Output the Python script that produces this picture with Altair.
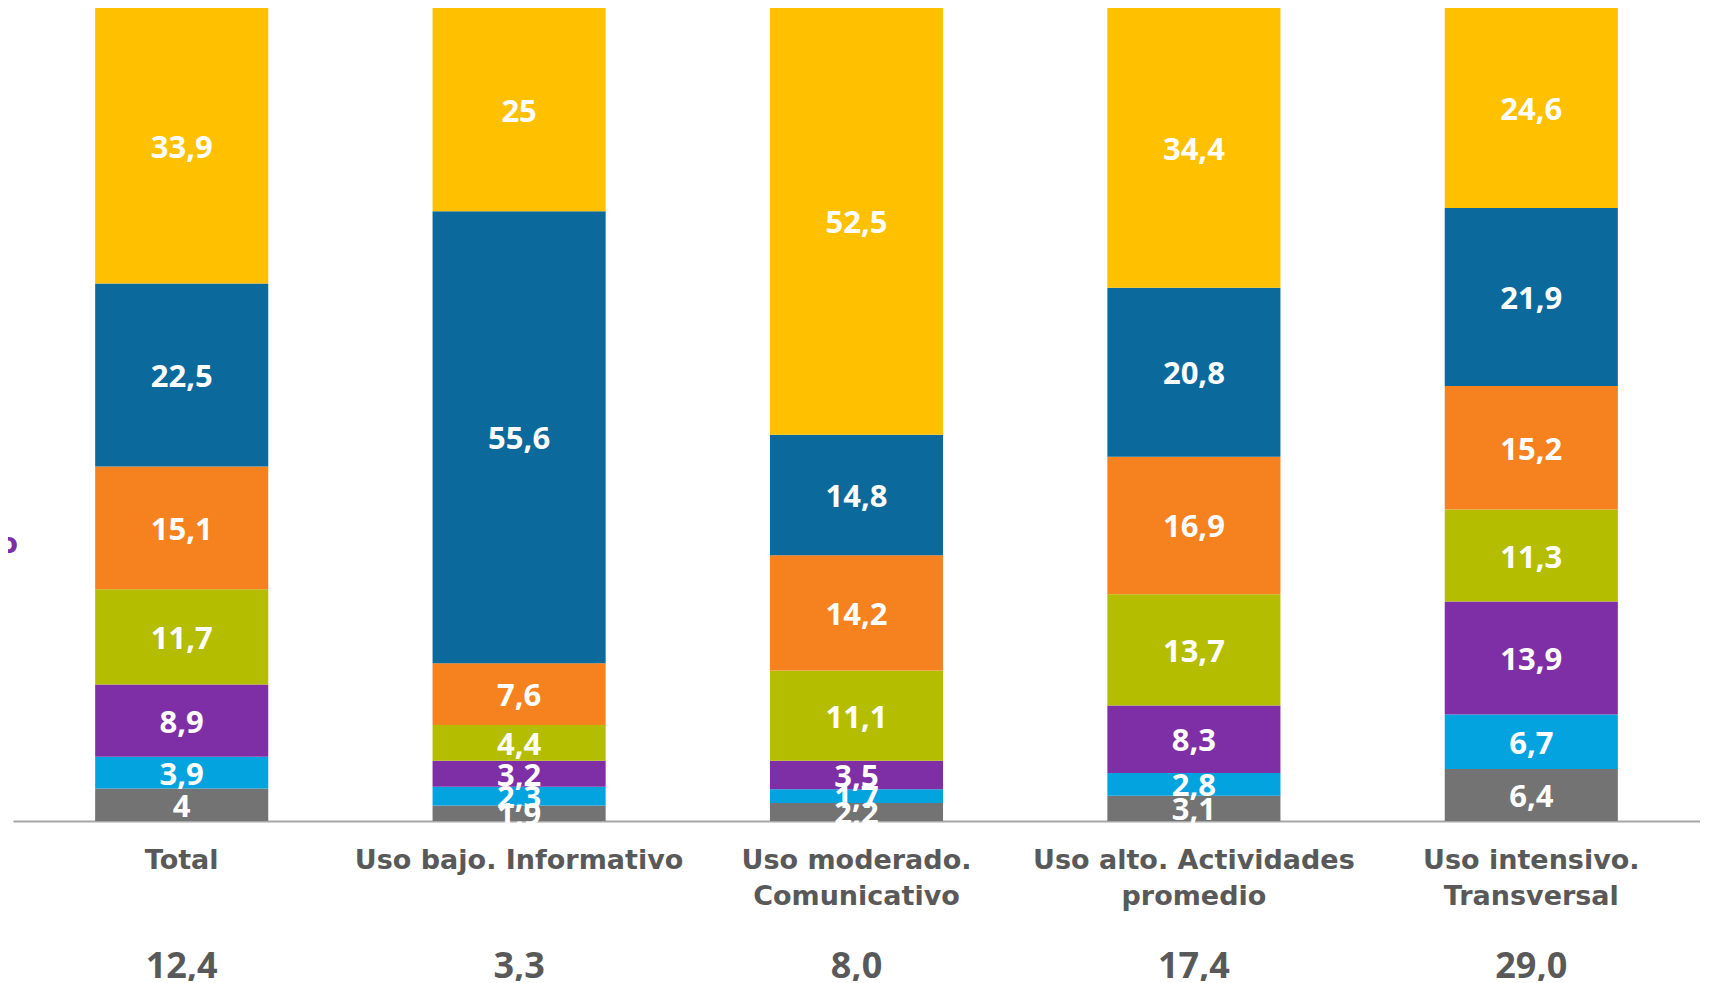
import altair as alt
import pandas as pd

categories = ["Total", "Uso bajo. Informativo", "Uso moderado.|Comunicativo",
              "Uso alto. Actividades|promedio", "Uso intensivo.|Transversal"]
series = ["s1", "s2", "s3", "s4", "s5", "s6", "s7"]  # bottom to top
colors = ["#737373", "#03A3DF", "#7F2FA6", "#B5BD00", "#F5821F", "#0B6A9B", "#FFC000"]
values = {
    "Total":                          [4, 3.9, 8.9, 11.7, 15.1, 22.5, 33.9],
    "Uso bajo. Informativo":          [1.9, 2.3, 3.2, 4.4, 7.6, 55.6, 25],
    "Uso moderado.|Comunicativo":     [2.2, 1.7, 3.5, 11.1, 14.2, 14.8, 52.5],
    "Uso alto. Actividades|promedio": [3.1, 2.8, 8.3, 13.7, 16.9, 20.8, 34.4],
    "Uso intensivo.|Transversal":     [6.4, 6.7, 13.9, 11.3, 15.2, 21.9, 24.6],
}
bottom_numbers = ["12,4", "3,3", "8,0", "17,4", "29,0"]

rows = []
for c in categories:
    for i, (s, v) in enumerate(zip(series, values[c])):
        rows.append({"cat": c, "serie": s, "idx": i, "value": v,
                     "label": f"{v:g}".replace(".", ",")})
df = pd.DataFrame(rows)
df_bottom = pd.DataFrame({"cat": categories, "num": bottom_numbers})

W, H = 1687, 813
FONT = "Open Sans"
LFONT = "DejaVu Sans"

xenc = alt.X("cat:N", sort=categories,
             scale=alt.Scale(paddingInner=0.487, paddingOuter=0.2435),
             axis=alt.Axis(title=None, ticks=False, labelAngle=0,
                           labelExpr="split(datum.value, '|')",
                           labelFont=LFONT, labelFontSize=27, labelFontWeight="bold",
                           labelColor="#595959", labelPadding=26, labelLineHeight=36,
                           labelLimit=500, labelOverlap=False,
                           domainColor="#A6A6A6", domainWidth=2))

base = alt.Chart(df).transform_stack(
    stack="value", groupby=["cat"], sort=[alt.SortField("idx", "ascending")], as_=["y0", "y1"]
).transform_calculate(mid="(datum.y0 + datum.y1) / 2")

yscale = alt.Scale(domain=[0, 100], nice=False, zero=True)

bars = base.mark_bar().encode(
    x=xenc,
    y=alt.Y("y0:Q", scale=yscale, axis=None),
    y2="y1:Q",
    color=alt.Color("serie:N", scale=alt.Scale(domain=series, range=colors), legend=None),
)

labels = base.mark_text(font=FONT, fontSize=31, fontWeight="bold", color="white",
                        baseline="middle", dy=3).encode(
    x=alt.X("cat:N", sort=categories),
    y=alt.Y("mid:Q", scale=yscale),
    text="label:N",
)

bottom = alt.Chart(df_bottom).mark_text(font=FONT, fontSize=36, fontWeight="bold",
                                        color="#595959", baseline="middle").encode(
    x=alt.X("cat:N", sort=categories),
    y=alt.value(H + 146),
    text="num:N",
)

cut = alt.Chart(pd.DataFrame({"t": ["o"]})).mark_text(
    font=LFONT, fontSize=28, fontWeight="bold", color="#7F2FA6",
    align="right", baseline="middle").encode(
    x=alt.value(5), y=alt.value(537), text="t:N")

chart = alt.layer(bars, labels, bottom, cut).properties(
    width=W, height=H,
    autosize=alt.AutoSizeParams(type="none"),
    padding={"left": 5, "top": 0, "right": 0, "bottom": 160},
).configure_view(stroke=None)

chart.save("out.html", embed_options={"renderer": "svg", "actions": False})
